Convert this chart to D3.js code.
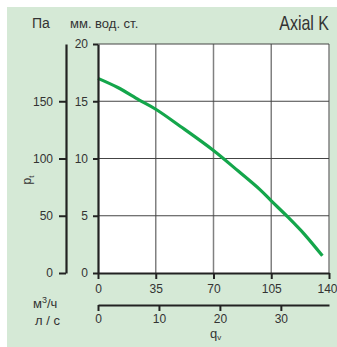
<!DOCTYPE html>
<html><head><meta charset="utf-8">
<script src="https://cdn.jsdelivr.net/npm/d3@7"></script>
<style>
body{margin:0;background:#fff;}
svg text{font-family:"Liberation Sans",Arial,sans-serif;fill:#333;}
</style></head><body>
<svg id="c" width="337" height="347"></svg>
<script>
const flowM3h = [0, 12, 25, 35, 50, 70, 85, 98, 105, 115, 125, 136];
const pressureMm = [17.0, 16.2, 15.1, 14.3, 12.8, 10.7, 8.9, 7.3, 6.3, 4.9, 3.4, 1.5];
const mmTicks = [0, 5, 10, 15, 20];
const paTicks = [0, 50, 100, 150];
const m3hTicks = [0, 35, 70, 105, 140];
const lsTicks = [0, 10, 20, 30];

const svg = d3.select("#c");
const L = 98, R = 329, T = 44, B = 273;

svg.append("rect").attr("x",7).attr("y",7).attr("width",330).attr("height",340).attr("fill","#d5e9d6");

const x = d3.scaleLinear().domain([0,140]).range([L,R]);
const y = d3.scaleLinear().domain([0,20]).range([B,T]);
const yPa = d3.scaleLinear().domain([0,200]).range([B,T]);
const xLs = d3.scaleLinear().domain([0,37.9]).range([L,R]);

svg.append("rect").attr("x",L).attr("y",T).attr("width",R-L).attr("height",B-T).attr("fill","#fff");

// grid
const g = svg.append("g");
g.selectAll("line.v").data(m3hTicks.slice(1)).join("line")
  .attr("x1",d=>x(d)).attr("x2",d=>x(d)).attr("y1",T).attr("y2",B)
  .attr("stroke","#808080").attr("stroke-width",1.5);
g.selectAll("line.h").data(mmTicks.slice(1)).join("line")
  .attr("x1",L).attr("x2",R).attr("y1",d=>y(d)).attr("y2",d=>y(d))
  .attr("stroke","#444").attr("stroke-width",1);

// curve
const line = d3.line().x((d,i)=>x(flowM3h[i])).y(d=>y(d)).curve(d3.curveCatmullRom.alpha(0.5));
svg.append("path").attr("d",line(pressureMm)).attr("fill","none")
  .attr("stroke","#14a64b").attr("stroke-width",3.2).attr("stroke-linecap","butt");

function styleAxis(sel){
  sel.select(".domain").attr("stroke","#222").attr("stroke-width",2.2);
  sel.selectAll(".tick line").attr("stroke","#222").attr("stroke-width",2);
  sel.selectAll(".tick text").attr("fill","#333").style("font-size","12px").style("font-family","Liberation Sans, Arial, sans-serif");
}

// mm axis
const aMm = svg.append("g").attr("transform",`translate(${L},0)`)
  .call(d3.axisLeft(y).tickValues(mmTicks).tickSize(5).tickSizeOuter(0).tickPadding(5));
styleAxis(aMm);

// Pa axis
const aPa = svg.append("g").attr("transform",`translate(66,0)`)
  .call(d3.axisLeft(yPa).tickValues(paTicks).tickSize(7).tickSizeOuter(0).tickPadding(6));
styleAxis(aPa);

// m3/h axis
const aX = svg.append("g").attr("transform",`translate(0,${B})`)
  .call(d3.axisBottom(x).tickValues(m3hTicks).tickSize(6).tickSizeOuter(0).tickPadding(5));
styleAxis(aX);
aX.selectAll(".tick text").filter(d=>d===140).attr("dx",-2);

// l/s axis
const aLs = svg.append("g").attr("transform",`translate(0,305)`)
  .call(d3.axisBottom(xLs).tickValues(lsTicks).tickSize(6).tickSizeOuter(0).tickPadding(3));
styleAxis(aLs);

// texts
svg.append("text").attr("x",32).attr("y",28).style("font-size","14px").text("Па");
svg.append("text").attr("x",70).attr("y",28).style("font-size","13px").text("мм. вод. ст.");
svg.append("text").attr("transform","translate(329,30) scale(0.78,1)").attr("text-anchor","end")
  .style("font-size","20.5px").text("Axial K");

const pt = svg.append("text").attr("transform","translate(31,180) rotate(-90)").attr("text-anchor","middle").style("font-size","12px");
pt.append("tspan").text("p");
pt.append("tspan").attr("dy",3).style("font-size","8px").text("t");

const m3 = svg.append("text").attr("x",33).attr("y",308).style("font-size","13px");
m3.append("tspan").text("м");
m3.append("tspan").attr("dy",-5).style("font-size","9px").text("3");
m3.append("tspan").attr("dy",5).text("/ч");
svg.append("text").attr("x",35).attr("y",325).style("font-size","13px").text("л / с");

const qv = svg.append("text").attr("x",210).attr("y",338).style("font-size","13px");
qv.append("tspan").text("q");
qv.append("tspan").attr("dy",2).style("font-size","8px").text("v");
</script></body></html>
